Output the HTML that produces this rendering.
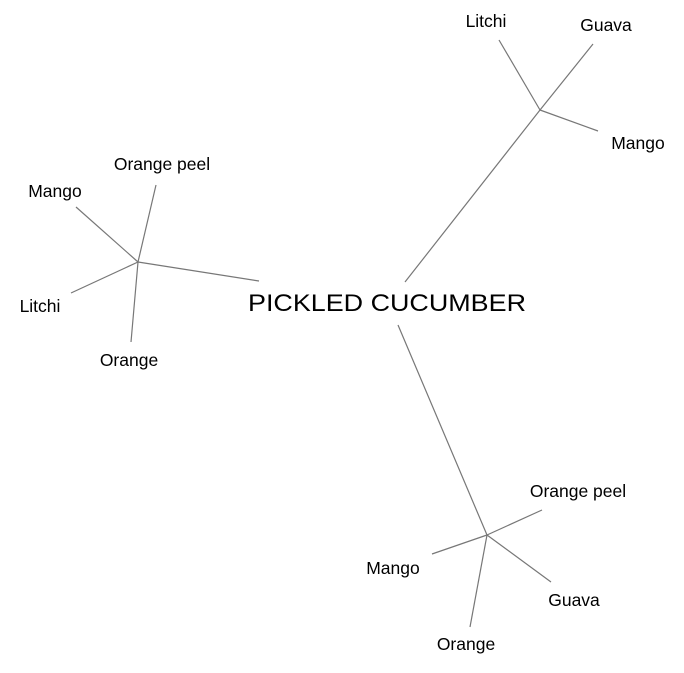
<!DOCTYPE html>
<html><head><style>
html,body{margin:0;padding:0;background:#fff;}
svg text{font-family:"Liberation Sans",Arial,sans-serif;fill:#000;}
</style></head><body>
<svg width="684" height="668" viewBox="0 0 684 668" xmlns="http://www.w3.org/2000/svg">
<g stroke="#777" stroke-width="1.2" fill="none">
<line x1="540" y1="110" x2="499" y2="40"/>
<line x1="540" y1="110" x2="593" y2="44"/>
<line x1="540" y1="110" x2="598" y2="131"/>
<line x1="540" y1="110" x2="405" y2="282"/>
<line x1="138" y1="262" x2="156" y2="185"/>
<line x1="138" y1="262" x2="76" y2="207"/>
<line x1="138" y1="262" x2="71" y2="293"/>
<line x1="138" y1="262" x2="131" y2="342"/>
<line x1="138" y1="262" x2="259" y2="281"/>
<line x1="487" y1="535" x2="398" y2="325"/>
<line x1="487" y1="535" x2="542" y2="510"/>
<line x1="487" y1="535" x2="432" y2="554"/>
<line x1="487" y1="535" x2="551" y2="582"/>
<line x1="487" y1="535" x2="470" y2="627"/>
</g>
<text x="387" y="311" font-size="24" text-anchor="middle" textLength="278" lengthAdjust="spacingAndGlyphs">PICKLED CUCUMBER</text>
<g font-size="17.5" text-anchor="middle">
<text x="486" y="27">Litchi</text>
<text x="606" y="31">Guava</text>
<text x="638" y="149">Mango</text>
<text x="162" y="170">Orange peel</text>
<text x="55" y="197">Mango</text>
<text x="40" y="312">Litchi</text>
<text x="129" y="366">Orange</text>
<text x="578" y="497">Orange peel</text>
<text x="393" y="574">Mango</text>
<text x="574" y="606">Guava</text>
<text x="466" y="650">Orange</text>
</g>
</svg>
</body></html>
